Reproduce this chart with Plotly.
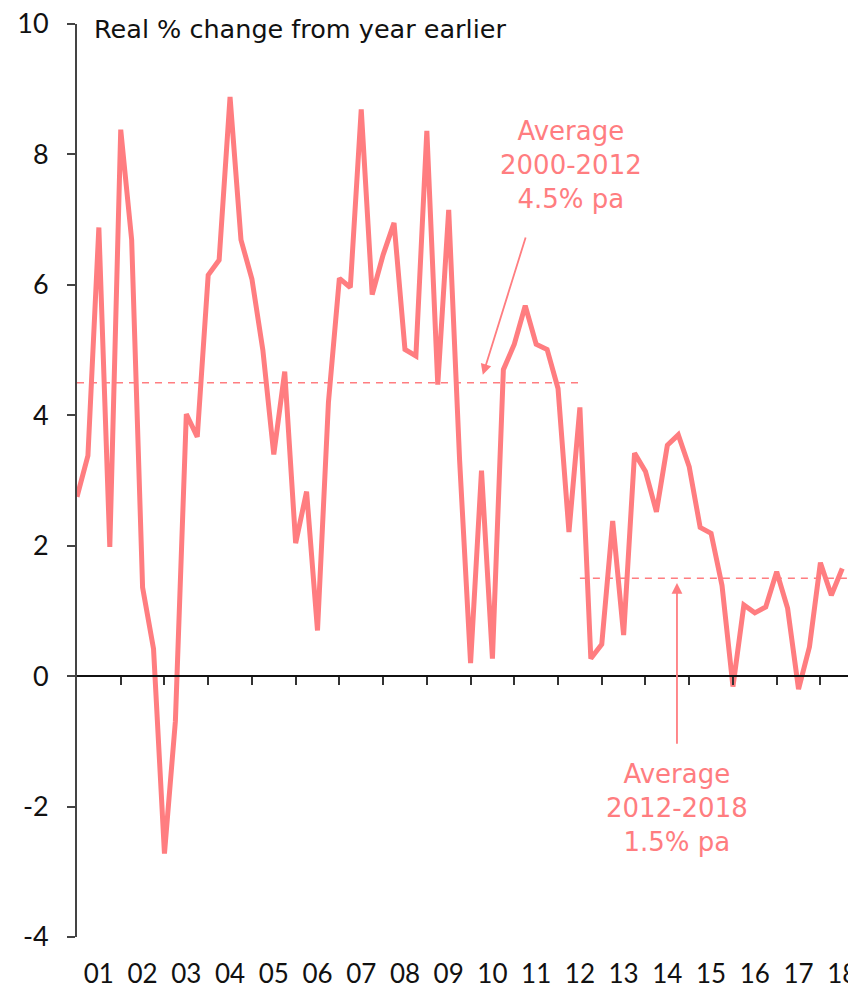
import numpy as np
import plotly.graph_objects as go

# Quarterly real growth, % change from a year earlier, from 2001 Q1
first_year = 2001
growth = [2.75, 3.38, 6.88, 1.98, 8.38, 6.69, 1.36, 0.42, -2.72, -0.69,
          4.02, 3.67, 6.15, 6.38, 8.88, 6.69, 6.09, 5.00, 3.40, 4.67,
          2.04, 2.83, 0.70, 4.20, 6.10, 5.96, 8.69, 5.85, 6.46, 6.95,
          5.01, 4.91, 8.36, 4.47, 7.15, 3.30, 0.20, 3.15, 0.27, 4.70,
          5.09, 5.68, 5.09, 5.01, 4.41, 2.21, 4.12, 0.27, 0.49, 2.38,
          0.63, 3.42, 3.14, 2.52, 3.54, 3.70, 3.21, 2.28, 2.19, 1.39,
          -0.16, 1.09, 0.97, 1.06, 1.60, 1.04, -0.20, 0.45, 1.74, 1.24, 1.65]

# Period averages (start, end, % pa)
avg_starts = [2001.0, 2012.5]
avg_ends = [2012.5, 2018.75]
avg_values = [4.5, 1.5]
avg_labels = ["Average<br>2000-2012<br>4.5% pa", "Average<br>2012-2018<br>1.5% pa"]

years = list(range(2001, 2019))
year_labels = [f"{y % 100:02d}" for y in years]
y_ticks = list(range(-4, 11, 2))
y_tick_labels = [str(v) for v in y_ticks]  # plain hyphen for negatives

PINK = "#FF7D80"
TICK_FONT = "Lato"
TEXT_FONT = "DejaVu Sans"
x_range = [2001.0, 2018.631]
y_range = [-4, 10]

x = first_year + np.arange(len(growth)) / 4.0

fig = go.Figure()
fig.add_trace(go.Scatter(x=x, y=growth, mode="lines",
                         line=dict(color=PINK, width=5), xaxis="x", yaxis="y",
                         showlegend=False, hoverinfo="skip"))
for s, e, v in zip(avg_starts, avg_ends, avg_values):
    fig.add_trace(go.Scatter(x=[s, e], y=[v, v], mode="lines",
                             line=dict(color=PINK, width=1.5, dash="7px,6px"),
                             xaxis="x2", yaxis="y", showlegend=False, hoverinfo="skip"))

# arrows pointing at the two average lines
arrow_heads = [(2010.28, 4.62), (2014.72, 1.43)]
arrow_tails = [(2011.27, 6.75), (2014.72, -1.06)]
text_pos = [(2012.30, 7.84), (2014.72, -2.02)]

annotations = []
for (hx, hy), (tx, ty) in zip(arrow_heads, arrow_tails):
    annotations.append(dict(x=hx, y=hy, ax=tx, ay=ty, xref="x", yref="y",
                            axref="x", ayref="y", text="", showarrow=True,
                            arrowhead=2, arrowsize=1.2, arrowwidth=1.8,
                            arrowcolor=PINK, standoff=0, startstandoff=0))
for (px, py), lab in zip(text_pos, avg_labels):
    annotations.append(dict(x=px, y=py, xref="x", yref="y", text=lab,
                            showarrow=False, align="center",
                            font=dict(family=TEXT_FONT, size=26, color=PINK)))
annotations.append(dict(x=0.0195, y=0.9945, xref="paper", yref="paper",
                        xanchor="left", yanchor="middle",
                        text="Real % change from year earlier", showarrow=False,
                        font=dict(family=TEXT_FONT, size=25.5, color="#111111")))

fig.update_layout(
    width=848, height=991,
    margin=dict(l=77, r=0, t=24, b=54, autoexpand=False),
    paper_bgcolor="white", plot_bgcolor="white",
    font=dict(family=TICK_FONT, color="#111111"),
    xaxis=dict(range=x_range, anchor="free", position=(0 - y_range[0]) / (y_range[1] - y_range[0]),
               automargin=False,
               showgrid=False, zeroline=False, showline=True, linecolor="#111111", linewidth=2,
               ticks="outside", tickvals=years[1:], ticklen=8, tickwidth=2, tickcolor="#333333",
               showticklabels=False),
    xaxis2=dict(range=x_range, overlaying="x", anchor="y", side="bottom", automargin=False,
                showgrid=False, zeroline=False, showline=False,
                ticks="outside", ticklen=14, tickcolor="rgba(0,0,0,0)",
                tickvals=[y + 0.5 for y in years], ticktext=year_labels,
                ticklabeloverflow="allow",
                tickfont=dict(family=TICK_FONT, size=26, color="#111111")),
    yaxis=dict(range=y_range, showgrid=False, zeroline=False, showline=True, automargin=False,
               linecolor="#444444", linewidth=2, ticks="outside", ticklen=8,
               tickwidth=2, tickcolor="#444444", tickvals=y_ticks, ticktext=y_tick_labels,
               ticklabelstandoff=13,
               tickfont=dict(family=TICK_FONT, size=27, color="#111111")),
    annotations=annotations,
)

fig.write_html("out.html")
